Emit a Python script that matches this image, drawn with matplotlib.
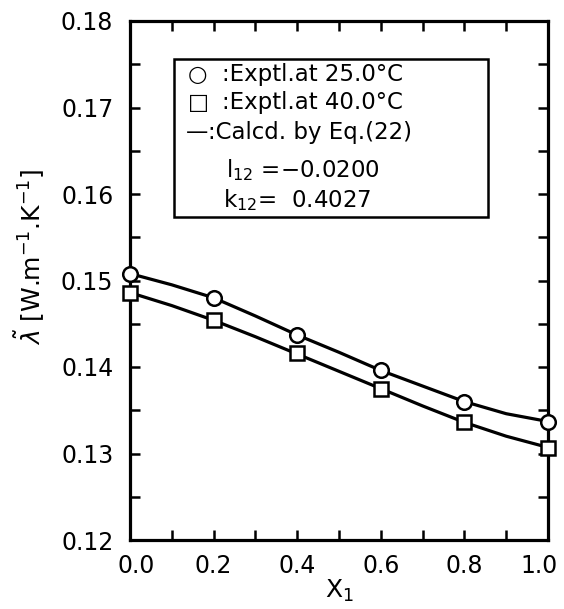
import numpy as np
import matplotlib
matplotlib.use("Agg")
import matplotlib.pyplot as plt
import matplotlib.transforms as mtransforms
from matplotlib.ticker import MultipleLocator, FormatStrFormatter
from matplotlib.patches import Rectangle

# measured points (x1, thermal conductivity)
x_exp = [0.0, 0.2, 0.4, 0.6, 0.8, 1.0]
lam_25 = [0.1508, 0.1480, 0.1437, 0.1396, 0.1360, 0.1336]
lam_40 = [0.1486, 0.1454, 0.1416, 0.1375, 0.1336, 0.1306]

# calculated curves
x_calc = [0.0, 0.1, 0.2, 0.3, 0.4, 0.5, 0.6, 0.7, 0.8, 0.9, 1.0]
calc_25 = [0.1508, 0.1495, 0.1480, 0.1459, 0.1437, 0.1417, 0.1396, 0.1378, 0.1360, 0.1346, 0.1337]
calc_40 = [0.1486, 0.1471, 0.1454, 0.1435, 0.1415, 0.1395, 0.1375, 0.1355, 0.1336, 0.1320, 0.1307]

x_ticks = [0.0, 0.2, 0.4, 0.6, 0.8, 1.0]
x_ticklabels = ["0.0", "0.2", "0.4", "0.6", "0.8", "1.0"]

legend_symbols = ["\u25CB", "\u25A1", "\u2014"]
legend_lines = [
    ":Exptl.at 25.0\u00B0C",
    ":Exptl.at 40.0\u00B0C",
    ":Calcd. by Eq.(22)",
    r"l$_{12}$ =$-$0.0200",
    r"k$_{12}$=  0.4027",
]

W, H = 564, 609
fig = plt.figure(figsize=(W / 100, H / 100), dpi=100)
L, R, T, B = 130, 548, 21, 540
ax = fig.add_axes([L / W, (H - B) / H, (R - L) / W, (B - T) / H])

lw = 2.3
ax.plot(x_calc, calc_25, color="black", lw=lw, zorder=2, solid_joinstyle="round")
ax.plot(x_calc, calc_40, color="black", lw=lw, zorder=2, solid_joinstyle="round")
ax.plot(x_exp, lam_25, "o", ms=10.5, mfc="white", mec="black", mew=1.8, clip_on=False, zorder=3)
ax.plot(x_exp, lam_40, "s", ms=9.5, mfc="white", mec="black", mew=1.8, clip_on=False, zorder=3)

ax.set_xlim(0, 1.0)
ax.set_ylim(0.12, 0.18)
ax.set_xticks(x_ticks, x_ticklabels)
ax.xaxis.set_minor_locator(MultipleLocator(0.1))
ax.yaxis.set_major_locator(MultipleLocator(0.01))
ax.yaxis.set_minor_locator(MultipleLocator(0.005))
ax.yaxis.set_major_formatter(FormatStrFormatter("%.2f"))
ax.tick_params(which="both", direction="in", top=True, right=True, length=7, width=1.8)
ax.tick_params(axis="x", which="major", labelsize=17, pad=10)
ax.tick_params(axis="y", which="major", labelsize=17, pad=12)
for s in ax.spines.values():
    s.set_linewidth(2.3)

# first and last x labels sit a little inside the frame
ticks = ax.xaxis.get_major_ticks()
for tk, dx in [(ticks[0], 6), (ticks[-1], -9)]:
    off = mtransforms.ScaledTranslation(dx / 100, 0, fig.dpi_scale_trans)
    tk.label1.set_transform(tk.label1.get_transform() + off)

ax.set_xlabel("X$_1$", fontsize=18, labelpad=0)
ax.set_ylabel(r"$\tilde{\lambda}$ [W.m$^{-1}$.K$^{-1}$]", fontsize=18)
ax.yaxis.set_label_coords(-0.2, 0.545)

def fx(px):
    return (px - L) / (R - L)

def fy(py):
    return 1 - (py - T) / (B - T)

ax.add_patch(Rectangle((fx(174), fy(217)), fx(488) - fx(174), fy(59) - fy(217),
                       transform=ax.transAxes, fill=False, lw=1.8, ec="black", zorder=4))
sym_pos = [(188, 75), (188, 103), (186, 132)]
for (tx, ty), s in zip(sym_pos, legend_symbols):
    ax.text(fx(tx), fy(ty), s, transform=ax.transAxes, fontsize=16,
            ha="left", va="center", zorder=5)
text_pos = [(222, 75), (222, 103), (208, 132), (226, 170), (223, 200)]
for (tx, ty), s in zip(text_pos, legend_lines):
    ax.text(fx(tx), fy(ty), s, transform=ax.transAxes, fontsize=16.5,
            ha="left", va="center", zorder=5)

fig.savefig("out.png", dpi=100)
